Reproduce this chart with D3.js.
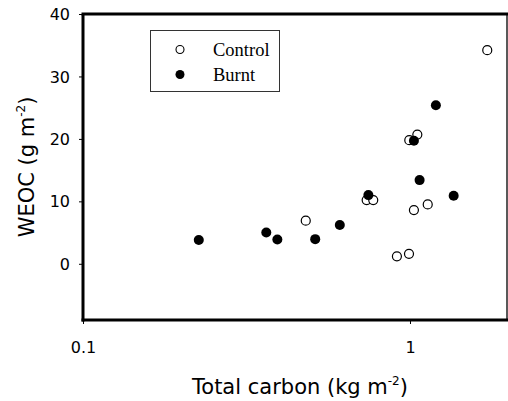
<!DOCTYPE html>
<html>
<head>
<meta charset="utf-8">
<script src="https://cdn.jsdelivr.net/npm/d3@7/dist/d3.min.js"></script>
<style>
  html, body { margin: 0; padding: 0; background: #fff; }
  svg { display: block; }
</style>
</head>
<body>
<div id="chart"></div>
<script>
/** --- DATA --- */
const controlCarbon = [0.48, 0.737, 0.772, 1.028, 1.133, 0.912, 0.993, 0.995, 1.053, 1.723];
const controlWeoc   = [6.9, 10.2, 10.2, 8.6, 9.5, 1.2, 1.6, 19.8, 20.7, 34.2];
const burntCarbon = [0.226, 0.3635, 0.393, 0.513, 0.61, 0.746, 1.07, 1.36, 1.028, 1.2];
const burntWeoc   = [3.8, 5.0, 3.9, 3.95, 6.2, 11.0, 13.4, 10.9, 19.7, 25.4];
const yTicks = [0, 10, 20, 30, 40];
const xTicks = [0.1, 1];
const seriesNames = ['Control', 'Burnt'];

/** --- DIMENSIONS --- */
const width = 508;
const height = 401;
const plotLeft = 83, plotRight = 507, plotTop = 14, plotBottom = 320;

const svg = d3.select('#chart').append('svg')
  .attr('width', width)
  .attr('height', height);

/** --- SCALES --- */
const x = d3.scaleLog()
  .domain([0.1, 1.98])
  .range([plotLeft, plotRight]);

const y = d3.scaleLinear()
  .domain([-9, 40])
  .range([plotBottom, plotTop]);

const sans = 'DejaVu Sans, Verdana, sans-serif';

// y axis ticks + labels
const yAxis = svg.append('g')
  .attr('transform', `translate(${plotLeft},0)`)
  .call(d3.axisLeft(y).tickValues(yTicks).tickSize(4).tickPadding(9).tickFormat(d3.format('d')));
yAxis.select('.domain').remove();
yAxis.selectAll('text')
  .attr('font-family', sans)
  .attr('font-size', 16)
  .attr('fill', '#000')
  .attr('dy', '0.35em');
yAxis.selectAll('line').attr('stroke', '#000').attr('stroke-width', 1);

// x axis ticks + labels
const xAxis = svg.append('g')
  .attr('transform', `translate(0,${plotBottom})`)
  .call(d3.axisBottom(x).tickValues(xTicks).tickSize(4).tickPadding(18).tickFormat(d => d));
xAxis.select('.domain').remove();
xAxis.selectAll('text')
  .attr('font-family', sans)
  .attr('font-size', 16)
  .attr('fill', '#000');
xAxis.selectAll('line').attr('stroke', '#000').attr('stroke-width', 1);

// frame: heavy on top / left / bottom, thin on the right
svg.append('line')
  .attr('x1', plotRight).attr('x2', plotRight).attr('y1', plotTop).attr('y2', plotBottom)
  .attr('stroke', '#222').attr('stroke-width', 1.5);
svg.append('line')
  .attr('x1', plotLeft - 1.5).attr('x2', plotRight + 1).attr('y1', plotTop).attr('y2', plotTop)
  .attr('stroke', '#000').attr('stroke-width', 3);
svg.append('line')
  .attr('x1', plotLeft - 1.5).attr('x2', plotRight + 1).attr('y1', plotBottom).attr('y2', plotBottom)
  .attr('stroke', '#000').attr('stroke-width', 3);
svg.append('line')
  .attr('x1', plotLeft).attr('x2', plotLeft).attr('y1', plotTop).attr('y2', plotBottom + 1.5)
  .attr('stroke', '#000').attr('stroke-width', 3);

/** --- POINTS --- */
const controlData = controlCarbon.map((c, i) => ({ c: c, w: controlWeoc[i] }));
const burntData = burntCarbon.map((c, i) => ({ c: c, w: burntWeoc[i] }));

svg.append('g').selectAll('circle')
  .data(controlData)
  .join('circle')
  .attr('cx', d => x(d.c))
  .attr('cy', d => y(d.w))
  .attr('r', 4.5)
  .attr('fill', '#fff')
  .attr('stroke', '#000')
  .attr('stroke-width', 1.2);

svg.append('g').selectAll('circle')
  .data(burntData)
  .join('circle')
  .attr('cx', d => x(d.c))
  .attr('cy', d => y(d.w))
  .attr('r', 5)
  .attr('fill', '#000');

/** --- LEGEND --- */
const legend = svg.append('g');
legend.append('rect')
  .attr('x', 150.5).attr('y', 30.5)
  .attr('width', 129).attr('height', 61)
  .attr('fill', '#fff')
  .attr('stroke', '#333')
  .attr('stroke-width', 1);

seriesNames.forEach((name, i) => {
  const cy = 49.5 + i * 25;
  legend.append('circle')
    .attr('cx', 180).attr('cy', cy)
    .attr('r', i === 0 ? 4 : 4.5)
    .attr('fill', i === 0 ? '#fff' : '#000')
    .attr('stroke', '#000')
    .attr('stroke-width', i === 0 ? 1.1 : 0);
  legend.append('text')
    .attr('x', 213).attr('y', cy + 6)
    .attr('font-family', 'Liberation Serif, Times New Roman, serif')
    .attr('font-size', 18.5)
    .text(name);
});

/** --- AXIS TITLES --- */
const xTitle = svg.append('text')
  .attr('x', 300).attr('y', 394)
  .attr('text-anchor', 'middle')
  .attr('font-family', sans)
  .attr('font-size', 21);
xTitle.append('tspan').text('Total carbon (kg m');
xTitle.append('tspan').attr('dy', -9).attr('font-size', 12).text('-2');
xTitle.append('tspan').attr('dy', 9).text(')');

const yTitle = svg.append('text')
  .attr('transform', `translate(34,${(plotTop + plotBottom) / 2}) rotate(-90)`)
  .attr('text-anchor', 'middle')
  .attr('font-family', sans)
  .attr('font-size', 21);
yTitle.append('tspan').text('WEOC (g m');
yTitle.append('tspan').attr('dy', -9).attr('font-size', 12).text('-2');
yTitle.append('tspan').attr('dy', 9).text(')');
</script>
</body>
</html>
